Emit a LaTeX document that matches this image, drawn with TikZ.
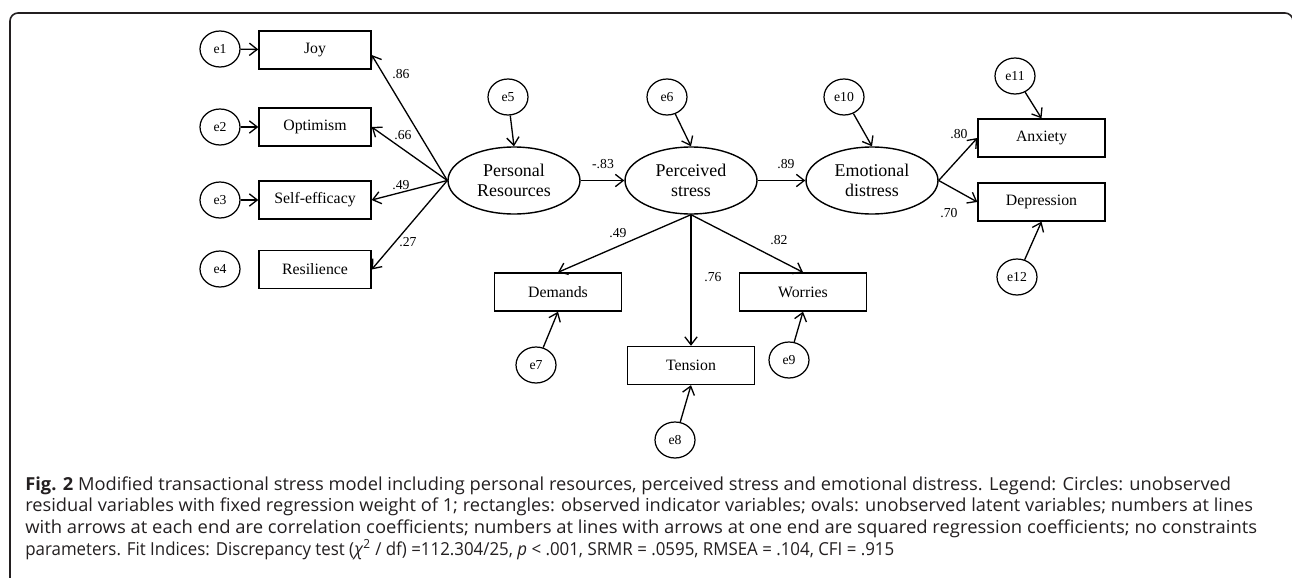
\documentclass[tikz,border=0pt]{standalone}
\usepackage{fontspec}
\usepackage{graphicx}
\setmainfont{Liberation Serif}
\newfontfamily\capfont{Open Sans}
\usetikzlibrary{arrows.meta,shapes.geometric}
\definecolor{capgray}{HTML}{231F20}
\begin{document}
\begin{tikzpicture}[x=0.02cm,y=-0.02cm,
  obs/.style={draw, line width=0.8pt, minimum width=2.24cm, minimum height=0.76cm, inner sep=0pt, font=\fontsize{9}{10}\selectfont},
  obsw/.style={obs, minimum width=2.54cm},
  lat/.style={ellipse, draw, line width=0.8pt, minimum width=2.64cm, minimum height=1.34cm, inner sep=0pt, align=center, font=\fontsize{10.2}{11.7}\selectfont},
  err/.style={ellipse, draw, line width=0.7pt, minimum width=0.8cm, minimum height=0.72cm, inner sep=0pt, font=\fontsize{7.8}{9}\selectfont},
  coef/.style={font=\fontsize{7.8}{9}\selectfont, inner sep=0pt},
  arr/.style={line width=0.75pt, -{Straight Barb[length=4.5pt,width=7pt]}},
  capline/.style={anchor=base west, inner sep=0pt, text=capgray}
]
\useasboundingbox (0,0) rectangle (1292,578);
\clip (0,0) rectangle (1292,578);
\fill[white] (0,0) rectangle (1292,578);
\draw[line width=0.9pt, rounded corners=0.16cm, capgray] (10,620) -- (10,13) -- (1293,13) -- (1293,620);

% indicators of personal resources
\node[obs] (joy) at (315,50) {Joy};
\node[obs] (opt) at (315,127) {Optimism};
\node[obs] (slf) at (315,200) {Self-efficacy};
\node[obs] (res) at (315,269.5) {Resilience};
\node[err] (e1) at (220,49) {e1};
\node[err] (e2) at (220,127) {e2};
\node[err] (e3) at (220,200) {e3};
\node[err] (e4) at (220,269) {e4};

% latent variables
\node[lat] (pr) at (514,180.5) {Personal\\Resources};
\node[lat] (ps) at (691,180.5) {Perceived\\stress};
\node[lat] (ed) at (872,180.5) {Emotional\\distress};
\node[err] (e5) at (508,97) {e5};
\node[err] (e6) at (667,97) {e6};
\node[err] (e10) at (844,97) {e10};

% outcomes
\node[obsw] (anx) at (1041.5,138) {Anxiety};
\node[obsw] (dep) at (1041.5,202) {Depression};
\node[err] (e11) at (1015,76) {e11};
\node[err] (e12) at (1017,277) {e12};

% stress indicators
\node[obsw] (dem) at (558,292) {Demands};
\node[obsw] (ten) at (691,365.5) {Tension};
\node[obsw] (wor) at (803,292) {Worries};
\node[err] (e7) at (536,365) {e7};
\node[err] (e8) at (675,440) {e8};
\node[err] (e9) at (789,360) {e9};

% connectors
\draw[arr] (e1) -- (joy);
\draw[arr] (e2) -- (opt);
\draw[arr] (e3) -- (slf);
\draw[arr] (pr.west) -- ([yshift=-0.1cm]joy.east);
\draw[arr] (pr.west) -- (opt.east);
\draw[arr] (pr.west) -- (slf.east);
\draw[arr] (pr.west) -- (res.east);
\draw[arr] (e5) -- (pr.north);
\draw[arr] (e6) -- (ps.north);
\draw[arr] (e10) -- (ed.north);
\draw[arr] (pr) -- (ps);
\draw[arr] (ps) -- (ed);
\draw[arr] (ed.east) -- (anx.west);
\draw[arr] (ed.east) -- (dep.west);
\draw[arr] (e11) -- (anx.north);
\draw[arr] (e12) -- (dep.south);
\draw[arr] (ps.south) -- (dem.north);
\draw[arr] (ps.south) -- (ten.north);
\draw[arr] (ps.south) -- (wor.north);
\draw[arr] (e7) -- (dem.south);
\draw[arr] (e8) -- (ten.south);
\draw[arr] (e9) -- (wor.south);

% coefficients
\node[coef] (c1) at (401,74) {.86};
\node[coef] (c2) at (403,135) {.66};
\node[coef] (c3) at (401,185) {.49};
\node[coef] (c4) at (408,242) {.27};
\node[coef] (c5) at (603,164) {-.83};
\node[coef] (c6) at (786,164) {.89};
\node[coef] (c7) at (959,134) {.80};
\node[coef] (c8) at (949,213) {.70};
\node[coef] (c9) at (618,233) {.49};
\node[coef] (c10) at (713,277) {.76};
\node[coef] (c11) at (779,240) {.82};

% caption
\node[capline] (cap1) at (25,490) {\resizebox{24.12cm}{\height}{\capfont\fontsize{10.2}{12}\selectfont\textbf{Fig. 2} Modified transactional stress model including personal resources, perceived stress and emotional distress. Legend: Circles: unobserved}};
\node[capline] (cap2) at (25,511.7) {\resizebox{24.56cm}{\height}{\capfont\fontsize{10.2}{12}\selectfont residual variables with fixed regression weight of 1; rectangles: observed indicator variables; ovals: unobserved latent variables; numbers at lines}};
\node[capline] (cap3) at (25,533.4) {\resizebox{24.64cm}{\height}{\capfont\fontsize{10.2}{12}\selectfont with arrows at each end are correlation coefficients; numbers at lines with arrows at one end are squared regression coefficients; no constraints}};
\node[capline] (cap4) at (25,555) {\resizebox{17.38cm}{\height}{\capfont\fontsize{10.2}{12}\selectfont parameters. Fit Indices: Discrepancy test (\textit{χ}\textsuperscript{2} / df) =112.304/25, \textit{p} < .001, SRMR = .0595, RMSEA = .104, CFI = .915}};
\end{tikzpicture}
\end{document}
